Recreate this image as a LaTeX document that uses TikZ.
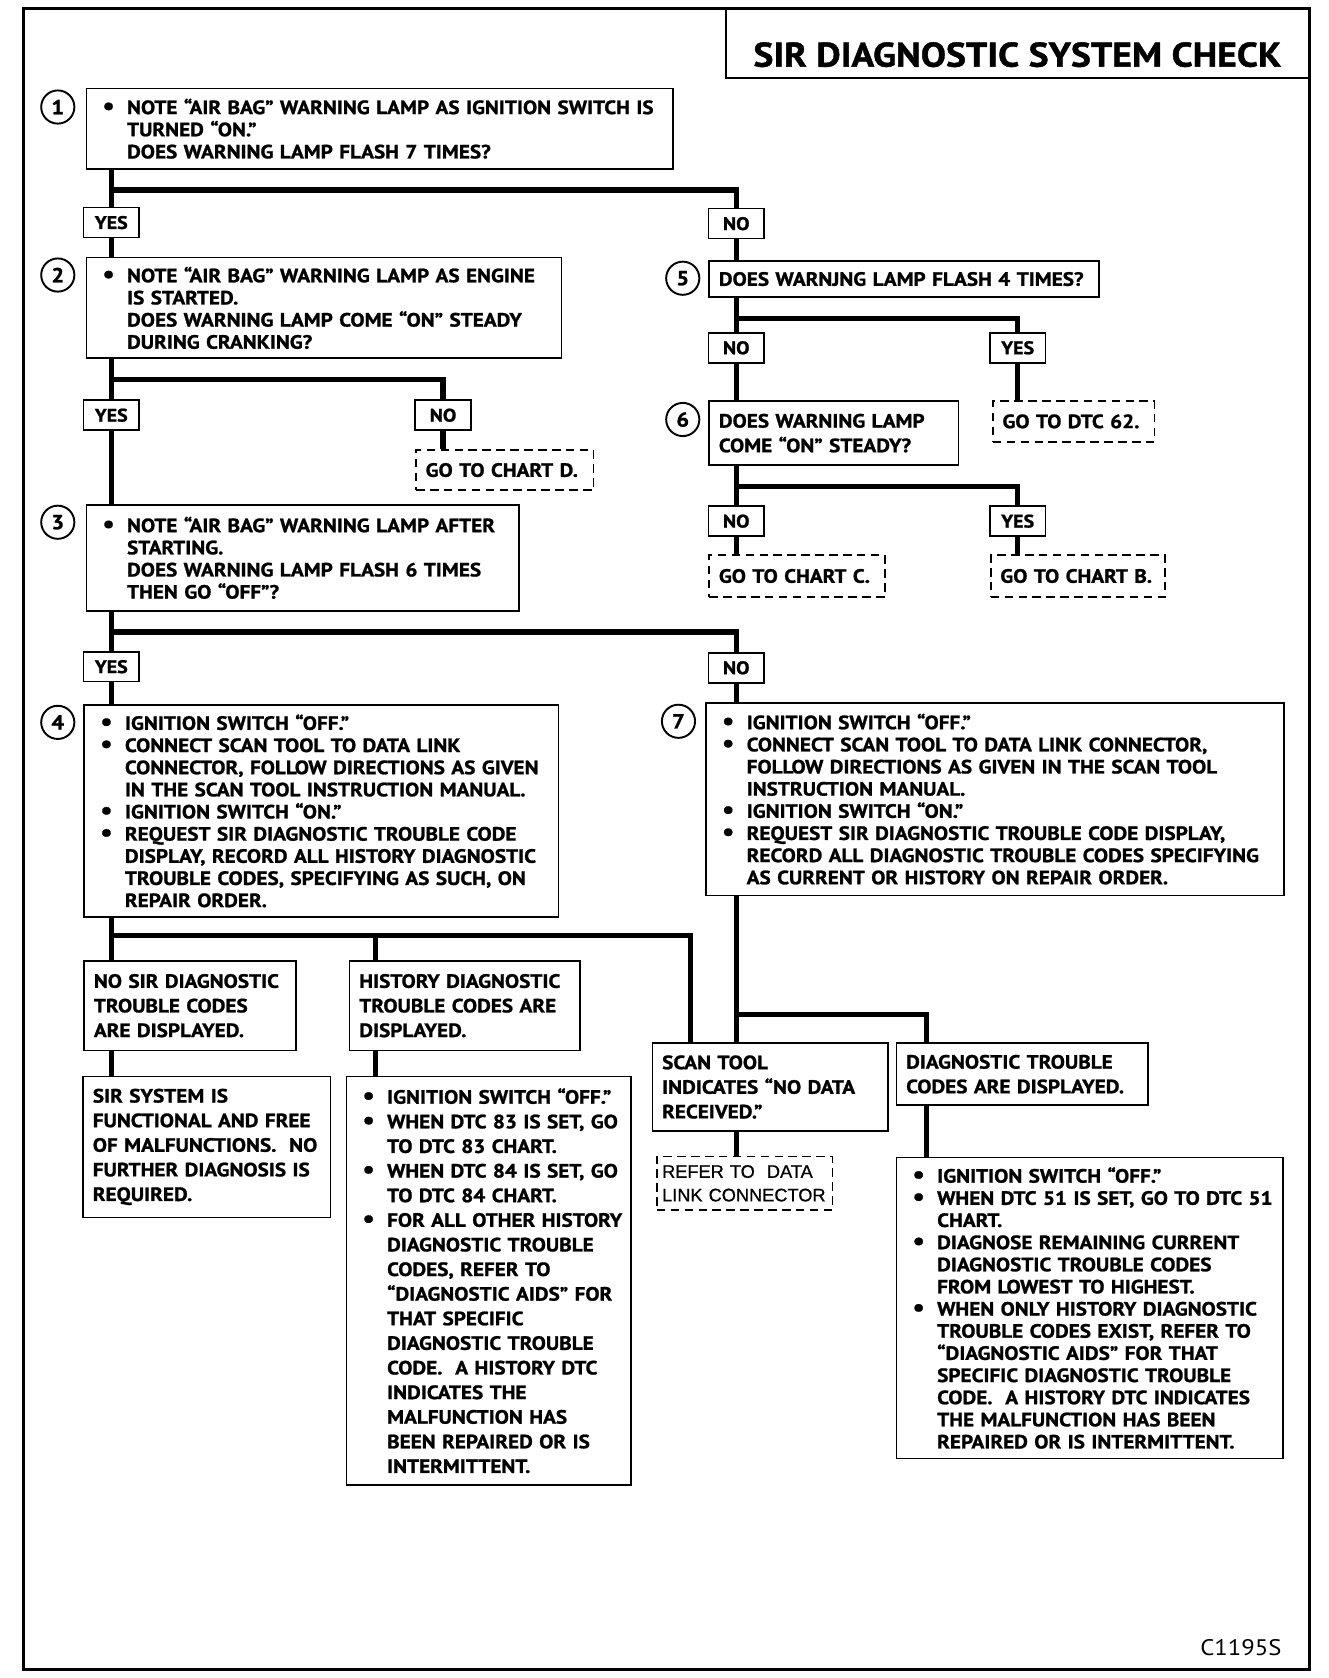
\documentclass[tikz,border=0pt]{standalone}
\usepackage{fontspec}
\setmainfont{PT Sans}[FakeStretch=1.1,BoldFeatures={FakeBold=1.2}]
\newfontfamily\plainfont{Liberation Sans}[FakeBold=0.8]
\newcommand{\bul}{\hspace*{11pt}\makebox[23pt][l]{\fontsize{23}{20}\selectfont\textbullet}}
\newcommand{\cont}{\hspace*{34pt}}
\usetikzlibrary{positioning}

\begin{document}
\begin{tikzpicture}[x=1pt,y=-1pt,
 box/.style={draw,line width=1.5pt,anchor=north west,inner xsep=9pt,inner ysep=0pt,align=left,font=\bfseries\fontsize{18}{20.7}\selectfont},
 list/.style={box,inner xsep=4pt},
 loose/.style={font=\bfseries\fontsize{18}{23}\selectfont},
 goto/.style={box,dash pattern=on 8pt off 5pt},
 choice/.style={draw,line width=1.5pt,minimum width=52pt,minimum height=28pt,inner sep=0pt,font=\bfseries\fontsize{17}{17}\selectfont},
 num/.style={circle,draw,line width=1.8pt,minimum size=31pt,inner sep=0pt,font=\bfseries\fontsize{19}{19}\selectfont},
 link/.style={line width=5pt,line join=miter}]
\useasboundingbox (0,0) rectangle (1241,1568);
\draw[line width=2.8pt] (22,8) rectangle (1224,1560);
\node[draw,line width=1.6pt,anchor=north east,minimum width=545pt,minimum height=64pt,text height=43pt,text depth=0pt,font=\bfseries\fontsize{32}{32}\selectfont] (title) at (1224,8) {SIR DIAGNOSTIC SYSTEM CHECK};

\node[num] (n1) at (54,100) {1};
\node[num] (n2) at (54,257) {2};
\node[num] (n3) at (54,488) {3};
\node[num] (n4) at (54,675) {4};
\node[num] (n5) at (638,260) {5};
\node[num] (n6) at (638,392) {6};
\node[num] (n7) at (634,674) {7};

\node[list,text width=540pt,minimum height=75pt] (b1) at (80,82) {\bul NOTE ``AIR BAG'' WARNING LAMP AS IGNITION SWITCH IS\\\cont TURNED ``ON.''\\\cont DOES WARNING LAMP FLASH 7 TIMES?};
\node[list,text width=436pt,minimum height=94pt] (b2) at (80,240) {\bul NOTE ``AIR BAG'' WARNING LAMP AS ENGINE\\\cont IS STARTED.\\\cont DOES WARNING LAMP COME ``ON'' STEADY\\\cont DURING CRANKING?};
\node[list,text width=396pt,minimum height=99pt] (b3) at (80,471) {\bul NOTE ``AIR BAG'' WARNING LAMP AFTER\\\cont STARTING.\\\cont DOES WARNING LAMP FLASH 6 TIMES\\\cont THEN GO ``OFF''?};
\node[list,text width=435pt,minimum height=198pt] (b4) at (78,658) {\bul IGNITION SWITCH ``OFF.''\\\bul CONNECT SCAN TOOL TO DATA LINK\\\cont CONNECTOR, FOLLOW DIRECTIONS AS GIVEN\\\cont IN THE SCAN TOOL INSTRUCTION MANUAL.\\\bul IGNITION SWITCH ``ON.''\\\bul REQUEST SIR DIAGNOSTIC TROUBLE CODE\\\cont DISPLAY, RECORD ALL HISTORY DIAGNOSTIC\\\cont TROUBLE CODES, SPECIFYING AS SUCH, ON\\\cont REPAIR ORDER.};
\node[box,text width=346pt,minimum height=34pt] (b5) at (662,243) {DOES WARNJNG LAMP FLASH 4 TIMES?};
\node[box,text width=215pt,minimum height=60pt,loose] (b6) at (662,374) {DOES WARNING LAMP\\COME ``ON'' STEADY?};
\node[list,text width=532pt,minimum height=180pt] (b7) at (659,656) {\bul IGNITION SWITCH ``OFF.''\\\bul CONNECT SCAN TOOL TO DATA LINK CONNECTOR,\\\cont FOLLOW DIRECTIONS AS GIVEN IN THE SCAN TOOL\\\cont INSTRUCTION MANUAL.\\\bul IGNITION SWITCH ``ON.''\\\bul REQUEST SIR DIAGNOSTIC TROUBLE CODE DISPLAY,\\\cont \mbox{RECORD ALL DIAGNOSTIC TROUBLE CODES SPECIFYING}\\\cont AS CURRENT OR HISTORY ON REPAIR ORDER.};

\node[choice] (yes1) at (104,208) {YES};
\node[choice] (no1) at (688,209) {NO};
\node[choice] (no2) at (688,325) {NO};
\node[choice] (yes2) at (951,325) {YES};
\node[choice] (no3) at (688,487) {NO};
\node[choice] (yes3) at (951,487) {YES};
\node[choice] (yes4) at (104,388) {YES};
\node[choice] (no4) at (414,388) {NO};
\node[choice] (yes5) at (104,623) {YES};
\node[choice] (no5) at (688,624) {NO};

\node[goto,text width=148pt,minimum height=37pt] (chartD) at (388,420) {GO TO CHART D.};
\node[goto,text width=133pt,minimum height=38pt] (dtc62) at (927,374) {GO TO DTC 62.};
\node[goto,text width=146pt,minimum height=39pt] (chartC) at (662,518) {GO TO CHART C.};
\node[goto,text width=145pt,minimum height=39pt] (chartB) at (925,518) {GO TO CHART B.};

\node[box,loose,text width=180pt,minimum height=84pt] (nosir) at (78,897) {NO SIR DIAGNOSTIC\\TROUBLE CODES\\ARE DISPLAYED.};
\node[box,loose,text width=197pt,minimum height=84pt] (histdisp) at (326,897) {HISTORY DIAGNOSTIC\\TROUBLE CODES ARE\\DISPLAYED.};
\node[box,loose,text width=213pt,minimum height=132pt] (sirok) at (77,1005) {SIR SYSTEM IS\\FUNCTIONAL AND FREE\\OF MALFUNCTIONS.\ \ NO\\FURTHER DIAGNOSIS IS\\REQUIRED.};
\node[list,loose,text width=258pt,minimum height=382pt] (histbul) at (323,1005) {\bul IGNITION SWITCH ``OFF.''\\\bul WHEN DTC 83 IS SET, GO\\\cont TO DTC 83 CHART.\\\bul WHEN DTC 84 IS SET, GO\\\cont TO DTC 84 CHART.\\\bul FOR ALL OTHER HISTORY\\\cont DIAGNOSTIC TROUBLE\\\cont CODES, REFER TO\\\cont ``DIAGNOSTIC AIDS'' FOR\\\cont THAT SPECIFIC\\\cont DIAGNOSTIC TROUBLE\\\cont CODE.\ \ A HISTORY DTC\\\cont INDICATES THE\\\cont MALFUNCTION HAS\\\cont BEEN REPAIRED OR IS\\\cont INTERMITTENT.};
\node[box,loose,text width=202pt,minimum height=82pt] (scan) at (609,974) {SCAN TOOL\\INDICATES ``NO DATA\\RECEIVED.''};
\node[goto,inner xsep=5pt,text width=154pt,minimum height=50pt,font=\plainfont\fontsize{17}{22}\selectfont] (refer) at (613,1080) {REFER TO\ \ DATA\\LINK CONNECTOR};
\node[box,loose,text width=217pt,minimum height=58pt] (dtcdisp) at (837,974) {DIAGNOSTIC TROUBLE\\CODES ARE DISPLAYED.};
\node[list,text width=353pt,minimum height=281pt] (dtcbul) at (837,1081) {\bul IGNITION SWITCH ``OFF.''\\\bul \mbox{WHEN DTC 51 IS SET, GO TO DTC 51}\\\cont CHART.\\\bul DIAGNOSE REMAINING CURRENT\\\cont DIAGNOSTIC TROUBLE CODES\\\cont FROM LOWEST TO HIGHEST.\\\bul WHEN ONLY HISTORY DIAGNOSTIC\\\cont TROUBLE CODES EXIST, REFER TO\\\cont ``DIAGNOSTIC AIDS'' FOR THAT\\\cont SPECIFIC DIAGNOSTIC TROUBLE\\\cont \mbox{CODE.\ \ A HISTORY DTC INDICATES}\\\cont THE MALFUNCTION HAS BEEN\\\cont REPAIRED OR IS INTERMITTENT.};

\node[anchor=east,font=\fontsize{21}{21}\selectfont] (code) at (1201,1540) {C1195S};

\foreach \a/\b/\c in {b1/yes1/no1,b2/yes4/no4,b3/yes5/no5,b5/no2/yes2,b6/no3/yes3}{
  \draw[link] (\a.south -| \b) -- (\b.north);
  \draw[link] (\a.south -| \b) -- ++(0,19) -| (\c.north);
}
\foreach \a/\b in {yes1/b2,yes4/b3,yes5/b4,no1/b5,no2/b6,no5/b7,no4/chartD,yes2/dtc62,no3/chartC,yes3/chartB}
  \draw[link] (\a.south) -- (\b.north -| \a.south);

\coordinate (t4) at (104,874);
\coordinate (t4b) at (351,874);
\coordinate (t4c) at (645,874);
\coordinate (t7) at (688,948);
\coordinate (t7b) at (866,948);
\draw[link] (b4.south -| t4) -- (nosir.north -| t4);
\draw[link] (t4) -- (t4c) -- (scan.north -| t4c);
\draw[link] (t4b) -- (histdisp.north -| t4b);
\draw[link] (nosir.south -| t4) -- (sirok.north -| t4);
\draw[link] (histdisp.south -| t4b) -- (histbul.north -| t4b);
\draw[link] (b7.south -| t7) -- (scan.north -| t7);
\draw[link] (t7) -- (t7b) -- (dtcdisp.north -| t7b);
\draw[link] (scan.south -| t7) -- (refer.north -| t7);
\draw[link] (dtcdisp.south -| t7b) -- (dtcbul.north -| t7b);
\end{tikzpicture}
\end{document}
